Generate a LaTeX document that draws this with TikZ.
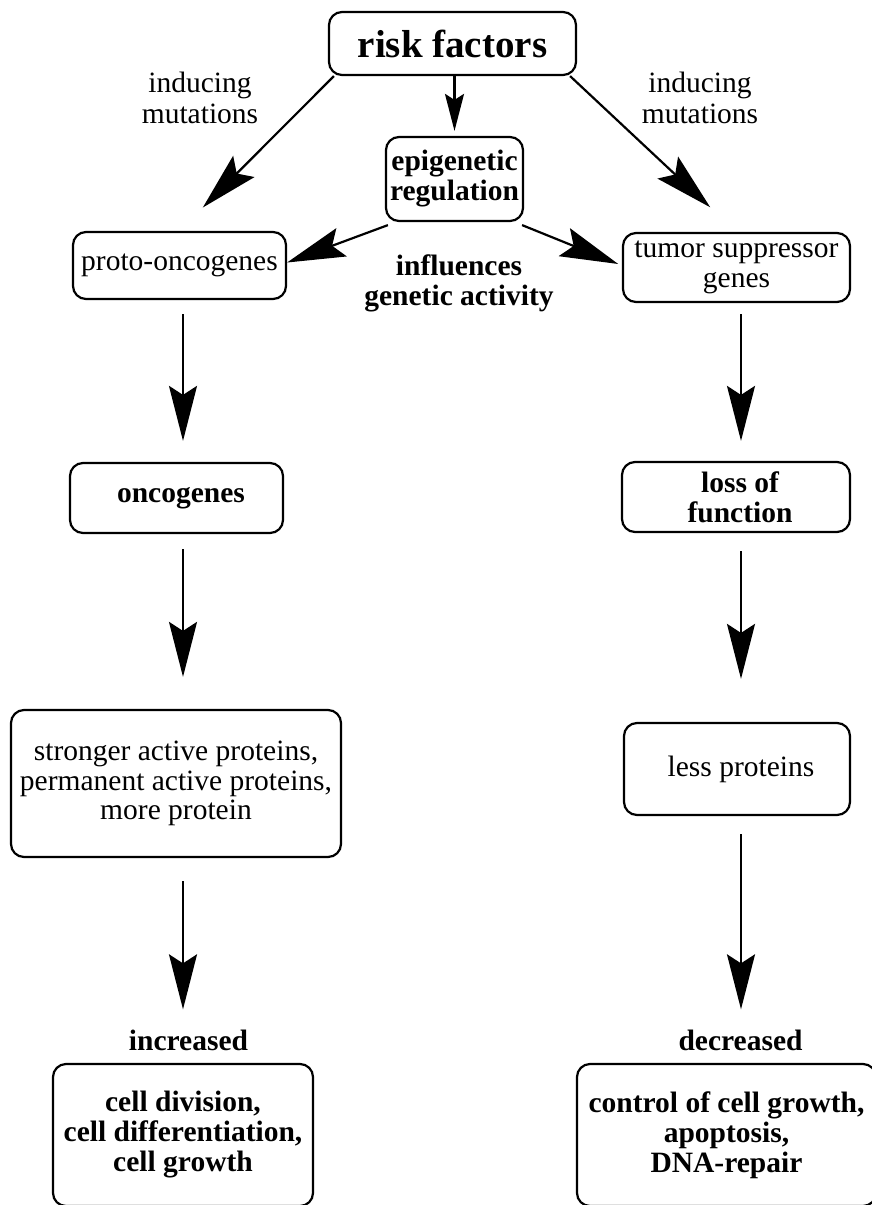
\documentclass[tikz,border=0pt]{standalone}
\usepackage{fontspec}
\setmainfont{Liberation Serif}
\usetikzlibrary{arrows.meta}
\tikzset{
  box/.style={draw, rounded corners=13pt, line width=2.2pt, align=center, inner sep=3pt},
  lbl/.style={align=center, inner sep=0pt},
  txt/.style={font=\fontsize{29.5}{29.5}\selectfont},
  bftxt/.style={font=\fontsize{29.5}{30}\selectfont\bfseries},
  flow/.style={line width=2.2pt, -{Stealth[length=55pt, width=28pt, inset=9pt]}},
  slant/.style={line width=2.2pt, -{Stealth[length=58pt, width=30pt, inset=10pt]}},
  short/.style={line width=2.2pt, -{Stealth[length=37pt, width=19pt, inset=6pt]}},
}

\begin{document}
\begin{tikzpicture}[x=1pt, y=-1pt]
    \useasboundingbox (0,0) rectangle (872,1205);
    \coordinate (lcol) at (183,0);
    \coordinate (rcol) at (741,0);

    \node[box, minimum width=247pt, minimum height=63pt, font=\fontsize{39}{40}\selectfont\bfseries]
      (risk) at (452.5,43.5) {risk factors};
    \node[box, bftxt, minimum width=137pt, minimum height=84pt]
      (epi) at (454.5,179) {epigenetic\\regulation};
    \node[box, txt, minimum width=213pt, minimum height=67pt]
      (proto) at (179.5,265.5) {proto-oncogenes};
    \node[box, txt, minimum width=227pt, minimum height=69pt]
      (tumor) at (736.5,267.5) {tumor suppressor\\genes};
    \node[box, bftxt, minimum width=213pt, minimum height=70pt]
      (onco) at (176.5,498) {\hspace*{9pt}oncogenes};
    \node[box, bftxt, minimum width=228pt, minimum height=70pt]
      (loss) at (736,497) {\hspace*{8pt}loss of\\\hspace*{8pt}function};
    \node[box, txt, minimum width=330pt, minimum height=147pt]
      (strong) at (176,783.5) {stronger active proteins,\\permanent active proteins,\\more protein};
    \node[box, txt, minimum width=226pt, minimum height=92pt]
      (less) at (737,769) {\hspace*{8pt}less proteins};
    \node[box, bftxt, minimum width=260pt, minimum height=142pt]
      (cellL) at (183,1135) {cell division,\\cell differentiation,\\cell growth};
    \node[box, bftxt, minimum width=299pt, minimum height=142pt]
      (cellR) at (726.5,1135) {control of cell growth,\\apoptosis,\\DNA-repair};

    \node[lbl, txt, font=\fontsize{29.5}{31}\selectfont] (indL) at (200,98) {inducing\\mutations};
    \node[lbl, txt, font=\fontsize{29.5}{31}\selectfont] (indR) at (700,98) {inducing\\mutations};
    \node[lbl, bftxt] (infl) at (459,283) {influences\\genetic activity};
    \node[lbl, bftxt, anchor=base] (incr) at (188.5,1050) {increased};
    \node[lbl, bftxt, anchor=base] (decr) at (740.5,1050) {decreased};

    \draw[short, shorten >=5pt] (risk.south -| epi) -- (epi.north);
    \draw[slant, shorten >=33pt] ([xshift=6pt]risk.south west) -- (proto.north);
    \draw[slant, shorten >=36pt] ([xshift=-7pt]risk.south east) -- (tumor.north);
    \draw[slant] ([xshift=3pt,yshift=-3pt]epi.south west) -- ([yshift=3pt]proto.east);
    \draw[slant, shorten >=4pt] ([xshift=-2pt,yshift=-3pt]epi.south east) -- ([yshift=2pt]tumor.west);

    \draw[flow, shorten <=14pt, shorten >=21pt] (proto.south -| lcol) -- (onco.north -| lcol);
    \draw[flow, shorten <=15pt, shorten >=32pt] (onco.south -| lcol) -- (strong.north -| lcol);
    \draw[flow, shorten <=23pt, shorten >=20pt] (strong.south -| lcol) -- (incr.north -| lcol);
    \draw[flow, shorten <=11pt, shorten >=20pt] (tumor.south -| rcol) -- (loss.north -| rcol);
    \draw[flow, shorten <=18pt, shorten >=43pt] (loss.south -| rcol) -- (less.north -| rcol);
    \draw[flow, shorten <=18pt, shorten >=20pt] (less.south -| rcol) -- (decr.north -| rcol);
\end{tikzpicture}
\end{document}
